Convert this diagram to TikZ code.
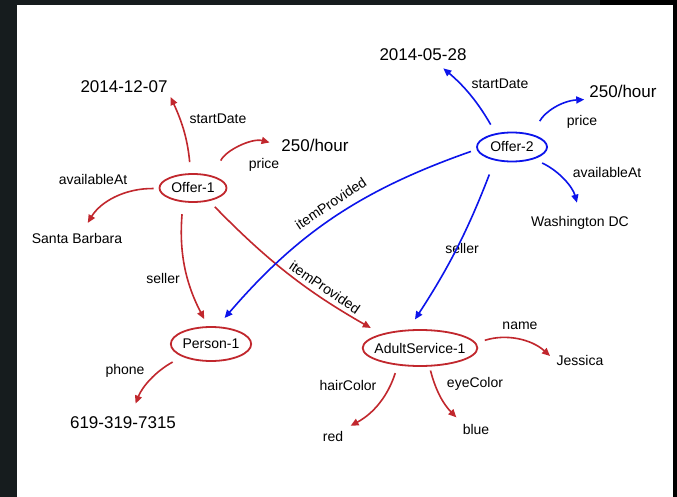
\documentclass[tikz,border=0pt]{standalone}
\usepackage{fontspec}
\setmainfont{Liberation Sans}
\usetikzlibrary{shapes.geometric,arrows.meta}
\definecolor{linkred}{RGB}{193,39,45}
\definecolor{linkblue}{RGB}{12,20,235}
\definecolor{bgdark}{RGB}{22,28,30}

\begin{document}
\begin{tikzpicture}[x=1pt,y=-1pt,
  ent/.style={draw,ellipse,line width=1.8pt,inner sep=0pt,font=\fontsize{14}{16}\selectfont},
  val/.style={inner sep=2pt,font=\fontsize{17}{19}\selectfont},
  txt/.style={inner sep=2pt,font=\fontsize{14}{16}\selectfont},
  lab/.style={inner sep=1pt,text=black,font=\fontsize{14}{16}\selectfont},
  rel/.style={-{Triangle[length=8pt,width=7pt]},line width=1.6pt},
]
\useasboundingbox (0,0) rectangle (677,497);
\fill[bgdark] (0,0) rectangle (677,497);
\fill[black] (600,0) rectangle (677,497);
\fill[white] (17,5) rectangle (673,497);

% entities
\node[ent,draw=linkred,minimum width=67pt,minimum height=28pt,name=o1] at (193,188) {Offer-1};
\node[ent,draw=linkblue,minimum width=70pt,minimum height=29pt,name=o2] at (512,147) {Offer-2};
\node[ent,draw=linkred,minimum width=78pt,minimum height=34pt,name=p1] at (211,344) {Person-1};
\node[ent,draw=linkred,inner xsep=-5pt,minimum width=113pt,minimum height=36pt,name=as1] at (420,348) {AdultService-1};

% values
\node[val,name=d1] at (124,87) {2014-12-07};
\node[val,name=v1] at (315,145) {250/hour};
\node[txt,name=sb] at (77,238) {Santa Barbara};
\node[val,name=d2] at (423,55) {2014-05-28};
\node[val,name=v2] at (623,91) {250/hour};
\node[txt,name=wdc] at (580,223) {Washington DC};
\node[val,name=ph] at (123,423) {619-319-7315};
\node[txt,name=jes] at (580,360) {Jessica};
\node[txt,name=hc] at (333,436) {red};
\node[txt,name=ec] at (476,429) {blue};

% property labels
\node[lab,name=l1] at (218,119) {startDate};
\node[lab,name=l2] at (264,165) {price};
\node[lab,name=l3] at (93,179) {availableAt};
\node[lab,name=l4] at (163,278) {seller};
\node[lab,name=l5] at (500,84) {startDate};
\node[lab,name=l6] at (582,122) {price};
\node[lab,name=l7] at (607,172) {availableAt};
\node[lab,name=l8] at (462,248) {seller};
\node[lab,name=l9] at (125,371) {phone};
\node[lab,name=l10] at (520,326) {name};
\node[lab,name=l11] at (348,385) {hairColor};
\node[lab,name=l12] at (475,384) {eyeColor};

% Offer-1
\draw[rel,linkred,shorten <=11pt,shorten >=2pt] (o1.99) to[bend right=10] (d1.south east);
\draw[rel,linkred,shorten <=17pt,shorten >=10pt] (o1.30) to[bend left=40] (v1.west);
\draw[rel,linkred,shorten <=5pt,shorten >=9pt] (o1.181) to[bend right=30] (sb.50);
\draw[rel,linkred,shorten <=12pt,shorten >=8pt] (o1.235) to[bend right=16] (p1.100);
\draw[rel,linkred,shorten <=8pt,shorten >=12pt] (o1.-39) to[bend right=8] node[lab,sloped,above=3pt,pos=0.68] {itemProvided} (as1.160);

% Offer-2
\draw[rel,linkblue,shorten <=10pt,shorten >=8pt] (o2.140) to[bend right=10] (d2.-30);
\draw[rel,linkblue,shorten <=15pt,shorten >=3pt] (o2.31) to[bend left=30] (v2.south west);
\draw[rel,linkblue,shorten <=9pt,shorten >=12pt] (o2.-29) to[bend left=25] (wdc.north);
\draw[rel,linkblue,shorten <=15pt,shorten >=12pt] (o2.218) to[bend left=6] (as1.122);
\draw[rel,linkblue,shorten <=6pt,shorten >=11pt] (o2.184) to[bend right=15] node[lab,sloped,above=7pt,pos=0.48] {itemProvided} (p1.70);

% Person-1 and AdultService-1
\draw[rel,linkred,shorten <=11pt,shorten >=12pt] (p1.204) to[bend right=20] (ph.45);
\draw[rel,linkred,shorten <=9pt,shorten >=6pt] (as1.5) to[bend left=30] (jes.west);
\draw[rel,linkred,shorten <=8pt,shorten >=6pt] (as1.218) to[bend left=22] (hc.north east);
\draw[rel,linkred,shorten <=4pt,shorten >=6pt] (as1.-63) to[bend right=15] (ec.north west);
\end{tikzpicture}
\end{document}
